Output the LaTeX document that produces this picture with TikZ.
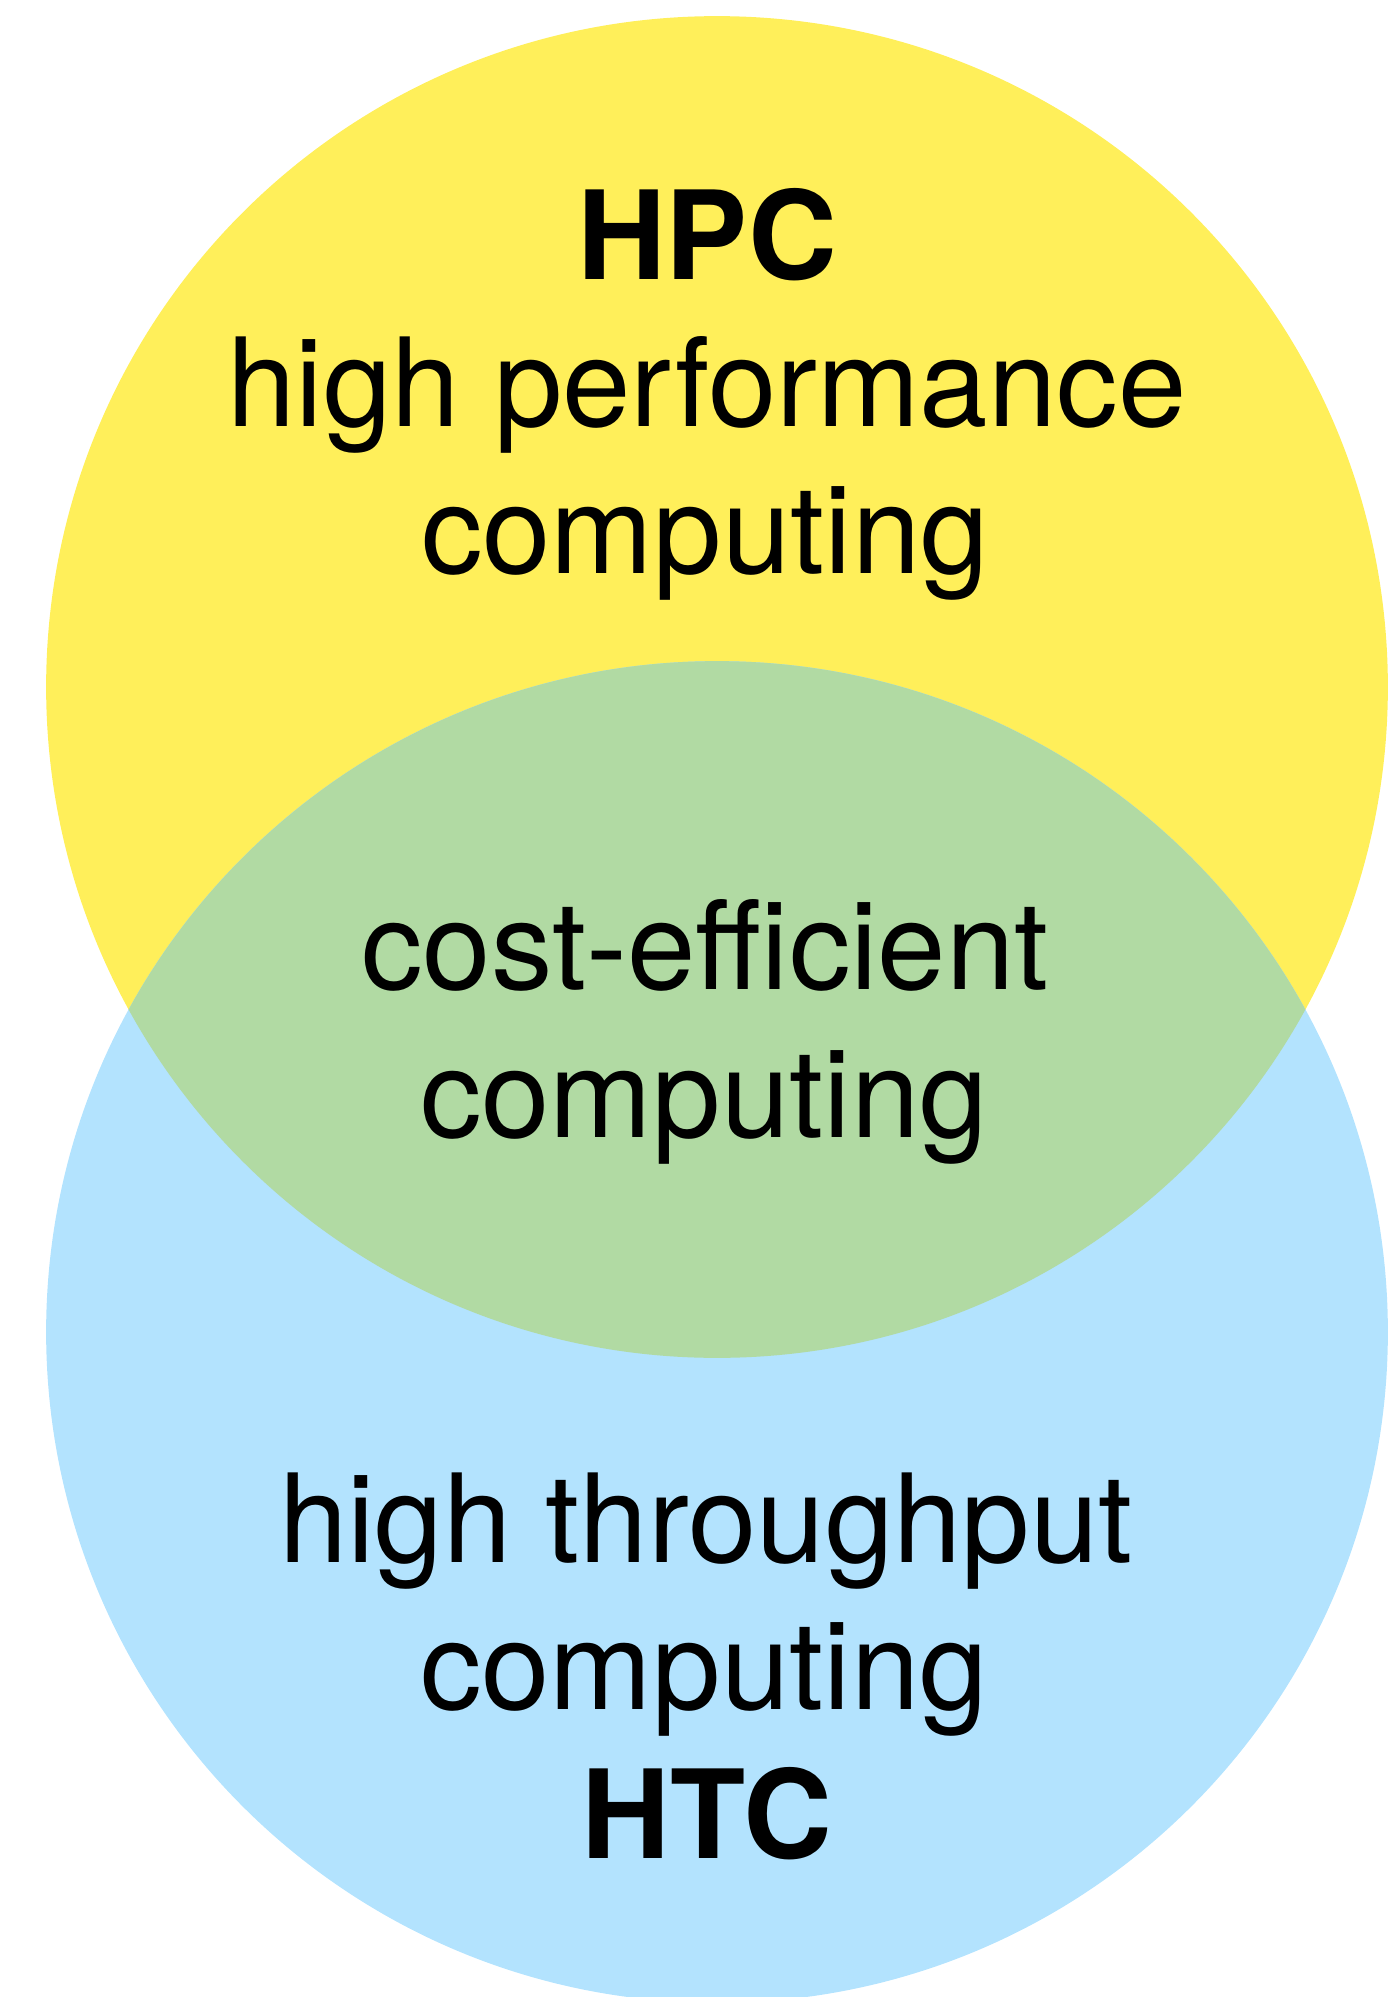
\documentclass[tikz,border=0pt]{standalone}
\usepackage{fontspec}
\setmainfont{TeX Gyre Heros}
\usepackage{tikz}
\definecolor{hpcyellow}{HTML}{FFEF5A}
\definecolor{htcblue}{HTML}{B3E3FE}
\definecolor{costgreen}{HTML}{B1DAA3}

\begin{document}
\begin{tikzpicture}[x=0.02cm, y=-0.02cm,
    vtext/.style={anchor=base, inner sep=0pt, font=\fontsize{70}{84}\selectfont}]

           \useasboundingbox (0,0) rectangle (1394,1997);

           % HPC circle
           \fill[hpcyellow] (717,687) circle [radius=13.42cm];

           % HTC circle
           \fill[htcblue] (717,1332) circle [radius=13.42cm];

           % overlap of both circles
           \begin{scope}
             \clip (717,687) circle [radius=13.42cm];
             \fill[costgreen] (717,1332) circle [radius=13.42cm];
           \end{scope}

           % HPC labels
           \node[vtext, font=\fontsize{70}{84}\selectfont\bfseries] (hpc) at (707,279) {HPC};
           \node[vtext] (hpclong) at (707,426) {high performance};
           \node[vtext] (hpccomp) at (705,573) {computing};

           % overlap labels
           \node[vtext] (cost) at (705,989) {cost-efficient};
           \node[vtext] (costcomp) at (704,1137) {computing};

           % HTC labels
           \node[vtext] (htclong) at (706,1562) {high throughput};
           \node[vtext] (htccomp) at (704,1709) {computing};
           \node[vtext, font=\fontsize{70}{84}\selectfont\bfseries] (htc) at (707,1858) {HTC};

\end{tikzpicture}
\end{document}
